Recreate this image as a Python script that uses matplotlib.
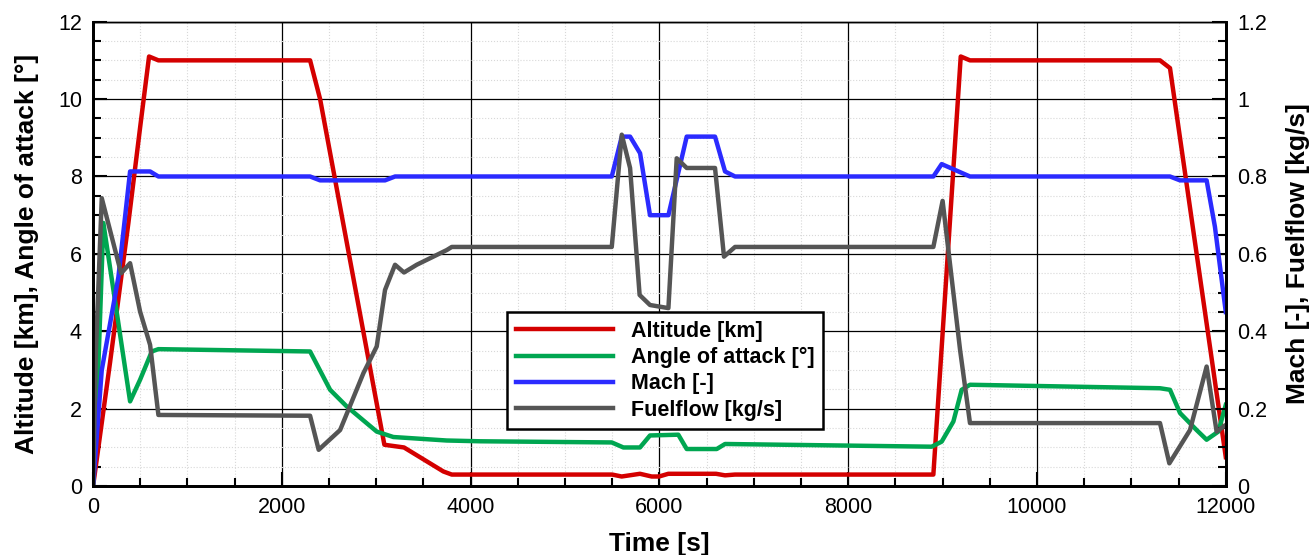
"""
Flight profile: altitude, angle of attack, Mach and fuel flow over time
"""
import matplotlib
matplotlib.use('Agg')
import matplotlib.pyplot as plt
from matplotlib.ticker import MultipleLocator, FuncFormatter

plt.rcParams['font.family'] = ['Liberation Sans', 'DejaVu Sans']

# altitude [km]
alt_t = [0, 180, 374, 500, 593, 692, 2299, 2405, 3086, 3294, 3711, 3800, 5500, 5600,
         5794, 5918, 5996, 6094, 6600, 6695, 6800, 8902, 9192, 9290, 11303, 11409, 12000]
alt_v = [0, 3.2, 6.8, 9.3, 11.1, 11.0, 11.0, 10.0, 1.07, 1.0, 0.38, 0.3, 0.3, 0.25,
         0.32, 0.25, 0.25, 0.32, 0.32, 0.28, 0.3, 0.3, 11.1, 11.0, 11.0, 10.8, 0.75]

# angle of attack [deg]
aoa_t = [0, 40, 109, 392, 498, 622, 692, 2299, 2511, 2687, 3005, 3181, 3746, 4100,
         5495, 5618, 5794, 5900, 6200, 6289, 6607, 6695, 8884, 8990, 9114, 9202, 9290,
         11303, 11409, 11515, 11691, 11797, 11921, 12000]
aoa_v = [0, 2.0, 6.8, 2.19, 2.75, 3.48, 3.54, 3.48, 2.49, 2.06, 1.41, 1.27, 1.18, 1.16,
         1.13, 1.0, 1.0, 1.31, 1.33, 0.96, 0.96, 1.09, 1.02, 1.15, 1.67, 2.49, 2.62,
         2.53, 2.49, 1.89, 1.45, 1.2, 1.41, 2.1]

# Mach [-]
mach_t = [0, 92, 268, 392, 604, 692, 2299, 2405, 3093, 3199, 5495, 5601, 5689, 5795,
          5900, 6095, 6289, 6589, 6695, 6801, 8902, 8990, 9290, 11409, 11515, 11797,
          11885, 12000]
mach_v = [0, 0.30, 0.54, 0.813, 0.813, 0.80, 0.80, 0.79, 0.79, 0.80, 0.80, 0.903, 0.903,
          0.86, 0.70, 0.70, 0.903, 0.903, 0.813, 0.80, 0.80, 0.832, 0.80, 0.80, 0.79,
          0.79, 0.67, 0.45]

# fuel flow [kg/s]
fuel_t = [0, 30, 92, 297, 392, 498, 604, 692, 2299, 2390, 2617, 2864, 3005, 3093, 3199,
          3294, 3429, 3747, 3800, 5495, 5601, 5689, 5790, 5900, 6095, 6183, 6289, 6589,
          6684, 6801, 8902, 9000, 9061, 9185, 9290, 11303, 11402, 11621, 11797, 11903,
          12000]
fuel_v = [0, 0.35, 0.744, 0.55, 0.576, 0.451, 0.365, 0.184, 0.182, 0.094, 0.145, 0.292,
          0.361, 0.507, 0.572, 0.552, 0.572, 0.61, 0.618, 0.618, 0.908, 0.822, 0.494,
          0.468, 0.46, 0.847, 0.822, 0.822, 0.593, 0.618, 0.618, 0.737, 0.61, 0.352,
          0.163, 0.163, 0.059, 0.145, 0.309, 0.141, 0.158]

fig = plt.figure(figsize=(13.11, 5.55), dpi=100)
ax = fig.add_axes([0.071, 0.124, 0.864, 0.837])
ax2 = ax.twinx()

lw = 3.2
l1, = ax.plot(alt_t, alt_v, color='#d40000', lw=lw, label='Altitude [km]')
l2, = ax.plot(aoa_t, aoa_v, color='#00a651', lw=lw, label='Angle of attack [°]')
l3, = ax2.plot(mach_t, mach_v, color='#2b2bff', lw=lw, label='Mach [-]')
l4, = ax2.plot(fuel_t, fuel_v, color='#555555', lw=lw, label='Fuelflow [kg/s]')

ax.set_xlim(0, 12000)
ax.set_ylim(0, 12)
ax2.set_ylim(0, 1.2)

ax.xaxis.set_major_locator(MultipleLocator(2000))
ax.xaxis.set_minor_locator(MultipleLocator(500))
ax.yaxis.set_major_locator(MultipleLocator(2))
ax.yaxis.set_minor_locator(MultipleLocator(0.5))
ax2.yaxis.set_major_locator(MultipleLocator(0.2))
ax2.yaxis.set_minor_locator(MultipleLocator(0.05))
ax2.yaxis.set_major_formatter(FuncFormatter(lambda v, p: '%g' % round(v, 2)))

ax.grid(which='major', color='black', lw=0.9)
ax.grid(which='minor', color='#d8d8d8', lw=0.8, linestyle=':')
ax.set_axisbelow(True)

for a in (ax, ax2):
    a.tick_params(which='both', direction='in', labelsize=15.5, width=1.5)
    a.tick_params(which='major', length=10)
    a.tick_params(which='minor', length=6)
ax.tick_params(axis='x', pad=8)
ax.tick_params(axis='y', pad=8)
ax2.tick_params(axis='y', pad=8)

for a in (ax, ax2):
    a.spines['left'].set_linewidth(2)
    a.spines['bottom'].set_linewidth(2)
    a.spines['right'].set_linewidth(2)
    a.spines['top'].set_linewidth(1)

ax.set_xlabel('Time [s]', fontsize=19, fontweight='bold', labelpad=10)
ax.set_ylabel('Altitude [km], Angle of attack [°]', fontsize=19, fontweight='bold', labelpad=14)
ax2.set_ylabel('Mach [-], Fuelflow [kg/s]', fontsize=19, fontweight='bold', labelpad=14)

leg = ax2.legend(handles=[l1, l2, l3, l4], loc='upper left',
                 bbox_to_anchor=(0.3657, 0.375), borderaxespad=0,
                 prop={'weight': 'bold', 'size': 15.5}, handlelength=4.5,
                 frameon=True, fancybox=False, borderpad=0.4, labelspacing=0.25,
                 handletextpad=0.85)
leg.get_frame().set_edgecolor('black')
leg.get_frame().set_linewidth(1.8)
leg.get_frame().set_alpha(1)

fig.savefig('out.png', dpi=100)
